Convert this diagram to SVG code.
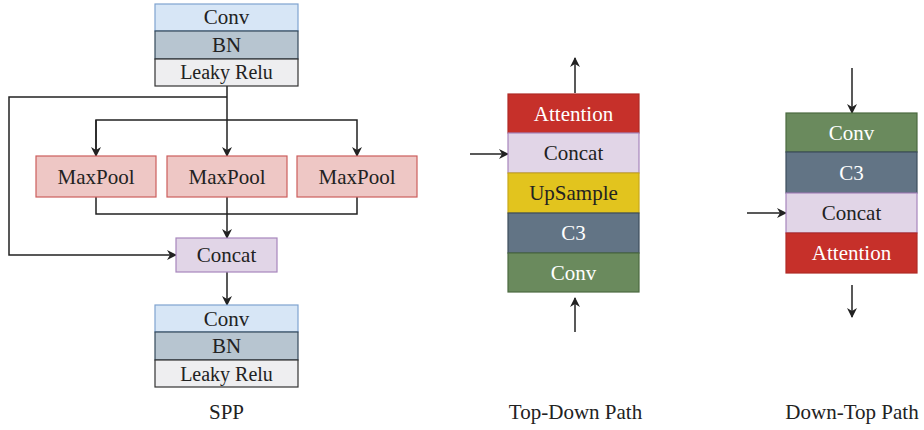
<svg xmlns="http://www.w3.org/2000/svg" width="924" height="430" viewBox="0 0 924 430">
  <style>
    text { font-family: "Liberation Serif", "DejaVu Serif", serif; font-size: 21px; text-anchor: middle; fill: #222; }
    .w { fill: #ffffff; }
    .relu-t { font-size: 20px; }
    .conv { fill: #d7e6f6; stroke: #7fa3d0; stroke-width: 1.2; }
    .bn { fill: #b7c5d0; stroke: #34495a; stroke-width: 1.2; }
    .relu { fill: #eeeef0; stroke: #333; stroke-width: 1.2; }
    .pool { fill: #eec7c5; stroke: #cc5e5c; stroke-width: 1.2; }
    .cat { fill: #e1d5e7; stroke: #a786bd; stroke-width: 1.2; }
    .att { fill: #c6302a; stroke: #b02a26; stroke-width: 1.2; }
    .up { fill: #e2c41e; stroke: #c9a91a; stroke-width: 1.2; }
    .c3 { fill: #627485; stroke: #3c4d5c; stroke-width: 1.2; }
    .gconv { fill: #6a8a5d; stroke: #4b6a40; stroke-width: 1.2; }
    .ln { fill: none; stroke: #222; stroke-width: 1.5; }
  </style>
  <defs>
    <marker id="arr" viewBox="0 0 10 10" refX="9" refY="5" markerWidth="10" markerHeight="10" markerUnits="userSpaceOnUse" orient="auto">
      <path d="M0,0 L10,5 L0,10 L3,5 Z" fill="#222"/>
    </marker>
  </defs>

  <!-- connectors -->
  <g id="connectors">
    <path class="ln" d="M227,86 V156" marker-end="url(#arr)"/>
    <path class="ln" d="M227,97 H9 V255 H176" marker-end="url(#arr)"/>
    <path class="ln" d="M96,156 V120 H357 V156" marker-end="url(#arr)"/>
    <path class="ln" d="M96,120 V156" marker-end="url(#arr)"/>
    <path class="ln" d="M96,197 V214 H357 V197"/>
    <path class="ln" d="M227,197 V238" marker-end="url(#arr)"/>
    <path class="ln" d="M227,272 V305" marker-end="url(#arr)"/>
    <path class="ln" d="M575,93 V58" marker-end="url(#arr)"/>
    <path class="ln" d="M470,154 H508" marker-end="url(#arr)"/>
    <path class="ln" d="M575,332 V298" marker-end="url(#arr)"/>
    <path class="ln" d="M852,68 V113" marker-end="url(#arr)"/>
    <path class="ln" d="M747,213 H786" marker-end="url(#arr)"/>
    <path class="ln" d="M852,285 V317" marker-end="url(#arr)"/>
  </g>

  <!-- SPP -->
  <g id="spp-in">
    <rect class="conv" x="155" y="4" width="143" height="27"/>
    <text x="226.5" y="24">Conv</text>
    <rect class="bn" x="155" y="31" width="143" height="28"/>
    <text x="226.5" y="52">BN</text>
    <rect class="relu" x="155" y="59" width="143" height="27"/>
    <text class="relu-t" x="226.5" y="79">Leaky Relu</text>
  </g>
  <g id="maxpool-1">
    <rect class="pool" x="36" y="156" width="120" height="41"/>
    <text x="96" y="183.5">MaxPool</text>
  </g>
  <g id="maxpool-2">
    <rect class="pool" x="167" y="156" width="120" height="41"/>
    <text x="227" y="183.5">MaxPool</text>
  </g>
  <g id="maxpool-3">
    <rect class="pool" x="297" y="156" width="120" height="41"/>
    <text x="357" y="183.5">MaxPool</text>
  </g>
  <g id="spp-concat">
    <rect class="cat" x="176" y="238" width="101" height="34"/>
    <text x="226.5" y="262">Concat</text>
  </g>
  <g id="spp-out">
    <rect class="conv" x="155" y="305" width="143" height="27"/>
    <text x="226.5" y="325.5">Conv</text>
    <rect class="bn" x="155" y="332" width="143" height="28"/>
    <text x="226.5" y="353">BN</text>
    <rect class="relu" x="155" y="360" width="143" height="27"/>
    <text class="relu-t" x="226.5" y="380.5">Leaky Relu</text>
  </g>
  <text x="226.5" y="419">SPP</text>

  <!-- Top-Down path -->
  <g id="top-down">
    <rect class="att" x="508" y="94" width="131" height="39"/>
    <text class="w" x="573.5" y="120.5">Attention</text>
    <rect class="cat" x="508" y="133" width="131" height="40"/>
    <text x="573.5" y="160">Concat</text>
    <rect class="up" x="508" y="173" width="131" height="40"/>
    <text x="573.5" y="200">UpSample</text>
    <rect class="c3" x="508" y="213" width="131" height="40"/>
    <text class="w" x="573.5" y="240">C3</text>
    <rect class="gconv" x="508" y="253" width="131" height="39"/>
    <text class="w" x="573.5" y="279.5">Conv</text>
  </g>
  <text x="575.5" y="419">Top-Down Path</text>

  <!-- Down-Top path -->
  <g id="down-top">
    <rect class="gconv" x="786" y="113" width="131" height="39"/>
    <text class="w" x="851.5" y="139.5">Conv</text>
    <rect class="c3" x="786" y="152" width="131" height="41"/>
    <text class="w" x="851.5" y="179.5">C3</text>
    <rect class="cat" x="786" y="193" width="131" height="40"/>
    <text x="851.5" y="220">Concat</text>
    <rect class="att" x="786" y="233" width="131" height="40"/>
    <text class="w" x="851.5" y="260">Attention</text>
  </g>
  <text x="852" y="419">Down-Top Path</text>
</svg>
